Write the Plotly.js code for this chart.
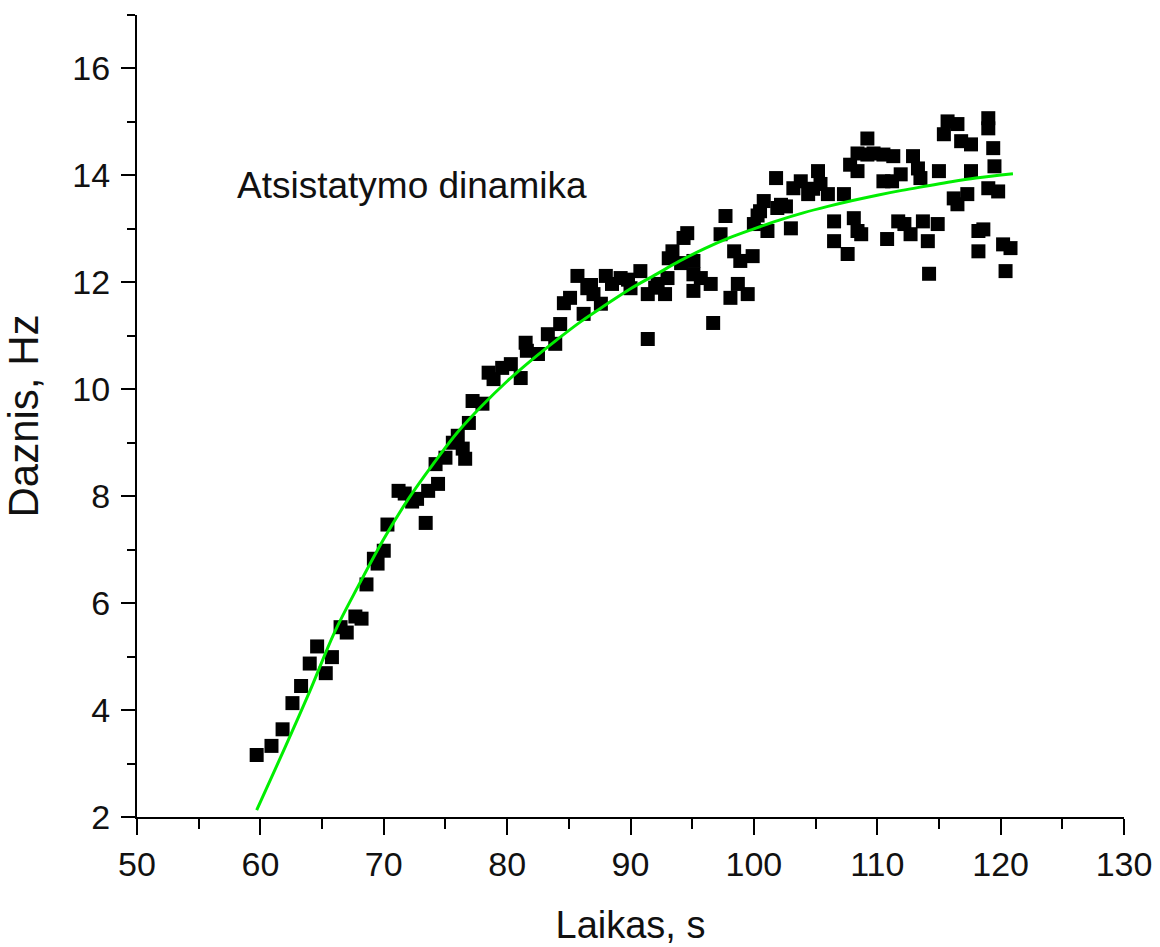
<!DOCTYPE html>
<html>
<head>
<meta charset="utf-8">
<script src="https://cdn.plot.ly/plotly-3.0.1.min.js"></script>
<style>html,body{margin:0;padding:0;background:#fff;}</style>
</head>
<body>
<div id="chart" style="width:1160px;height:947px;"></div>
<script>
// Measured points (Laikas, s vs Daznis, Hz)
const timeS = [59.7,60.9,61.8,62.6,63.3,64.0,64.6,65.3,65.8,66.5,67.0,67.7,68.2,68.6,69.2,69.5,70.0,70.3,71.2,71.7,72.3,72.7,73.4,73.6,74.4,74.2,75.0,75.6,76.0,76.4,76.6,76.9,77.2,78.0,78.5,78.9,79.6,80.3,81.1,81.5,81.6,82.5,83.3,83.9,84.3,84.6,85.1,85.7,86.2,86.5,87.0,87.6,88.0,88.5,89.2,90.0,90.8,91.4,91.4,92.0,92.2,92.8,93.0,93.1,93.4,94.1,94.3,94.6,95.1,95.1,95.1,95.7,96.5,96.7,97.3,97.7,98.1,98.4,98.7,98.9,99.5,99.9,100.0,100.5,100.8,101.1,101.8,101.9,102.6,103.0,103.2,103.8,104.4,105.2,105.4,106.0,106.5,106.5,107.3,107.6,107.8,108.1,108.4,108.4,108.4,108.7,109.2,109.2,109.7,110.5,110.5,110.8,111.3,111.2,111.9,111.7,112.2,112.7,112.9,113.3,113.5,113.7,114.1,114.2,114.9,115.0,115.4,115.7,116.2,116.5,116.5,116.8,117.3,117.6,117.6,118.2,118.2,118.6,119.0,119.0,119.4,119.5,119.0,119.8,120.2,120.8,120.4,86.8,89.8,102.2,104.8,100.3];
const freqHz = [3.16,3.33,3.64,4.13,4.45,4.87,5.19,4.69,4.99,5.55,5.45,5.75,5.71,6.35,6.83,6.74,6.98,7.47,8.10,8.05,7.90,7.95,7.50,8.10,8.23,8.60,8.72,9.00,9.13,8.89,8.70,9.37,9.78,9.73,10.31,10.19,10.40,10.47,10.21,10.87,10.72,10.66,11.03,10.85,11.22,11.61,11.71,12.12,11.41,11.89,11.78,11.60,12.12,11.97,12.08,11.89,12.21,10.94,11.78,11.90,11.97,11.78,12.08,12.45,12.58,12.36,12.83,12.92,12.15,11.84,12.40,12.08,11.97,11.24,12.90,13.24,11.71,12.58,11.97,12.40,11.78,12.49,13.09,13.33,13.52,12.96,13.95,13.39,13.42,13.01,13.76,13.89,13.65,14.08,13.84,13.65,13.14,12.77,13.65,12.53,14.20,13.20,12.96,14.08,14.41,12.90,14.39,14.69,14.41,14.39,13.89,12.81,14.36,13.89,14.02,13.14,13.09,12.90,14.36,14.13,13.95,13.14,12.77,12.16,13.09,14.08,14.77,15.01,13.57,14.96,13.46,14.64,13.65,14.58,14.08,12.96,12.58,12.99,15.07,14.88,14.51,14.17,13.76,13.70,12.71,12.64,12.21,11.95,12.05,13.45,13.75,13.25];

// Fitted recovery curve
const fitX = [59.7,62,64,66,68,70,72,74,76,78,80,82,84,86,88,90,92,94,96,98,100,102,104,106,108,110,112,114,116,118,121];
const fitY = [2.13,3.3,4.35,5.45,6.35,7.2,7.95,8.6,9.2,9.7,10.15,10.55,10.92,11.27,11.58,11.88,12.14,12.4,12.63,12.83,13.0,13.16,13.3,13.42,13.53,13.63,13.72,13.8,13.88,13.95,14.03];

const xTitle = "Laikas, s";
const yTitle = "Daznis, Hz";
const noteText = "Atsistatymo dinamika";

const FONT = "'Liberation Sans', Arial, Helvetica, sans-serif";

const traces = [
  {
    x: timeS, y: freqHz, type: 'scatter', mode: 'markers',
    marker: {symbol: 'square', size: 14, color: '#000000', line: {width: 0}},
    hoverinfo: 'x+y', showlegend: false
  },
  {
    x: fitX, y: fitY, type: 'scatter', mode: 'lines',
    line: {color: '#00ee00', width: 3, shape: 'spline', smoothing: 1},
    showlegend: false
  }
];

const axisCommon = {
  showgrid: false, zeroline: false, showline: true, linecolor: '#000', linewidth: 2,
  ticks: 'outside', tickcolor: '#000', tickwidth: 2,
  tickfont: {family: FONT, size: 34, color: '#111'}
};

const layout = {
  width: 1160, height: 947,
  margin: {l: 137, r: 36, t: 15, b: 130},
  paper_bgcolor: '#fff', plot_bgcolor: '#fff',
  font: {family: FONT, color: '#111'},
  xaxis: Object.assign({}, axisCommon, {
    range: [50, 130], tick0: 50, dtick: 10, ticklen: 16,
    minor: {dtick: 5, ticklen: 10, tickwidth: 2, tickcolor: '#000', ticks: 'outside'},
    title: {text: xTitle, font: {family: FONT, size: 38, color: '#111'}, standoff: 30},
    automargin: false
  }),
  yaxis: Object.assign({}, axisCommon, {
    range: [2, 17], tick0: 0, dtick: 2, ticklen: 14,
    minor: {dtick: 1, ticklen: 8, tickwidth: 2, tickcolor: '#000', ticks: 'outside'},
    ticklabelstandoff: 4,
    title: {text: yTitle, font: {family: FONT, size: 42, color: '#111'}, standoff: 22},
    automargin: false
  }),
  annotations: [{
    text: noteText, x: 72.3, y: 13.82, xref: 'x', yref: 'y',
    showarrow: false, font: {family: FONT, size: 37, color: '#111'},
    xanchor: 'center', yanchor: 'middle'
  }]
};

Plotly.newPlot('chart', traces, layout, {displayModeBar: false, staticPlot: true});
</script>
</body>
</html>
